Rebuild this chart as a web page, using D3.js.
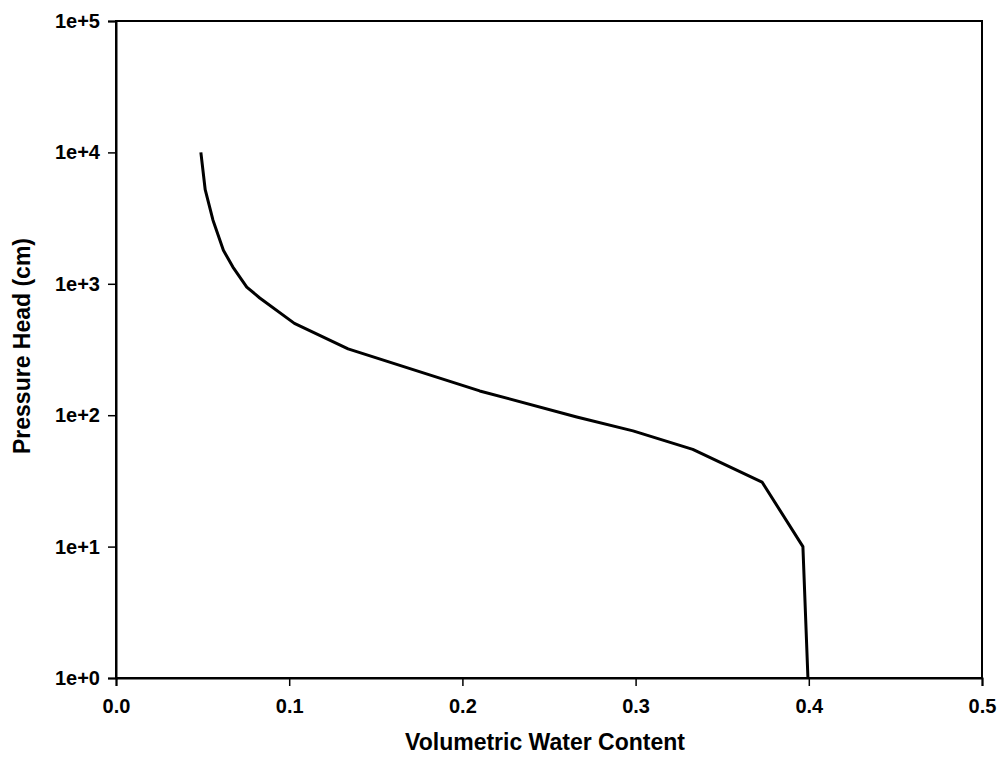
<!DOCTYPE html>
<html>
<head>
<meta charset="utf-8">
<script src="https://cdn.jsdelivr.net/npm/d3@7"></script>
<style>
  html, body { margin: 0; padding: 0; background: #fff; }
  svg { display: block; }
  text { font-family: "Liberation Sans", Arial, sans-serif; fill: #000; }
</style>
</head>
<body>
<svg id="chart" width="1003" height="768"></svg>
<script>
// Water retention curve: volumetric water content vs pressure head
const waterContent = [0.049, 0.0515, 0.056, 0.062, 0.0675, 0.0755, 0.083, 0.103, 0.134, 0.210, 0.266, 0.2985, 0.333, 0.373, 0.3966, 0.3995];
const pressureHead = [10000, 5200, 3050, 1800, 1340, 945, 780, 500, 320, 153, 97, 76, 55, 31, 10, 1];
const xTicks = [0.0, 0.1, 0.2, 0.3, 0.4, 0.5];
const yTicks = [1, 10, 100, 1000, 10000, 100000];
const yTickLabels = ["1e+0", "1e+1", "1e+2", "1e+3", "1e+4", "1e+5"];

const svg = d3.select("#chart");
const margin = { left: 116, right: 1003 - 982, top: 21, bottom: 768 - 678 };
const W = 1003, H = 768;

const x = d3.scaleLinear().domain([0, 0.5]).range([margin.left, W - margin.right]);
const y = d3.scaleLog().domain([1, 100000]).range([H - margin.bottom, margin.top]);

// frame
svg.append("rect")
  .attr("x", x(0)).attr("y", y(100000))
  .attr("width", x(0.5) - x(0)).attr("height", y(1) - y(100000))
  .attr("fill", "none").attr("stroke", "#000").attr("stroke-width", 2);

// x axis
const xAxis = svg.append("g")
  .attr("transform", `translate(0,${y(1)})`)
  .call(d3.axisBottom(x).tickValues(xTicks).tickFormat(d3.format(".1f")).tickSize(8).tickPadding(13));
xAxis.select(".domain").attr("stroke-width", 2);
xAxis.selectAll(".tick line").attr("stroke-width", 1.5);
xAxis.selectAll("text").attr("font-size", 20).attr("font-weight", "bold")
  .attr("font-family", '"Liberation Sans", Arial, sans-serif');

// y axis
const yAxis = svg.append("g")
  .attr("transform", `translate(${x(0)},0)`)
  .call(d3.axisLeft(y).tickValues(yTicks).tickFormat((d, i) => yTickLabels[i]).tickSize(8).tickPadding(8));
yAxis.select(".domain").attr("stroke-width", 2);
yAxis.selectAll(".tick line").attr("stroke-width", 1.5);
yAxis.selectAll("text").attr("font-size", 20).attr("font-weight", "bold")
  .attr("font-family", '"Liberation Sans", Arial, sans-serif');

// axis titles
svg.append("text")
  .attr("x", 545).attr("y", 750)
  .attr("text-anchor", "middle").attr("font-size", 23).attr("font-weight", "bold")
  .text("Volumetric Water Content");

svg.append("text")
  .attr("transform", `translate(30,346) rotate(-90)`)
  .attr("text-anchor", "middle").attr("font-size", 23).attr("font-weight", "bold")
  .text("Pressure Head (cm)");

// curve
const line = d3.line()
  .x((d, i) => x(waterContent[i]))
  .y((d, i) => y(pressureHead[i]));

svg.append("path")
  .datum(waterContent)
  .attr("d", line)
  .attr("fill", "none")
  .attr("stroke", "#000")
  .attr("stroke-width", 3)
  .attr("stroke-linejoin", "round");
</script>
</body>
</html>
